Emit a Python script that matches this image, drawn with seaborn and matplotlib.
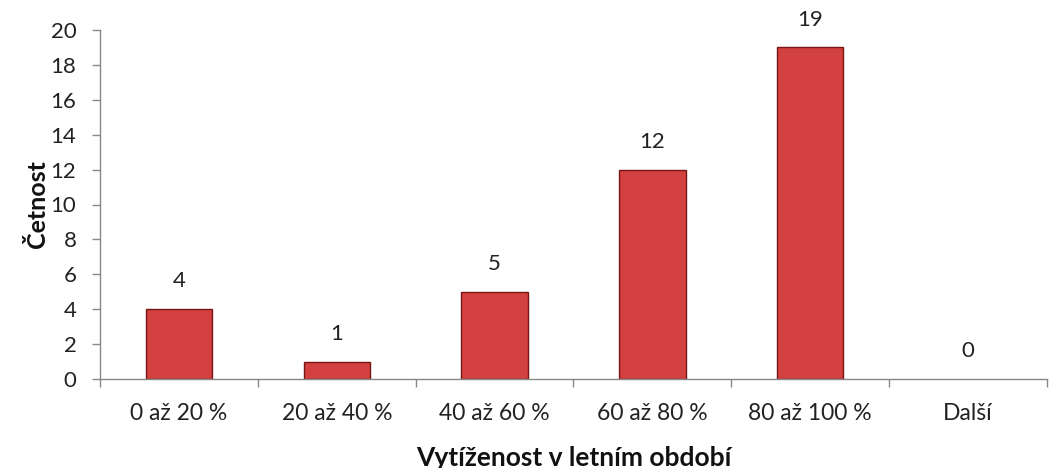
import matplotlib
matplotlib.use("Agg")
import matplotlib.pyplot as plt
import seaborn as sns
import pandas as pd
from matplotlib.ticker import FixedLocator

categories = ["0 až 20 %", "20 až 40 %", "40 až 60 %", "60 až 80 %", "80 až 100 %", "Další"]
counts = [4, 1, 5, 12, 19, 0]
yticks = [0, 2, 4, 6, 8, 10, 12, 14, 16, 18, 20]

sns.set_style("white")
plt.rcParams['font.family'] = ['Lato', 'DejaVu Sans']

df = pd.DataFrame({"cat": categories, "n": counts})
fig = plt.figure(figsize=(10.57, 4.68), dpi=100)
ax = fig.add_axes([100/1057, (468-379)/468, (1047-100)/1057, (379-30)/468])

sns.barplot(data=df, x="cat", y="n", ax=ax, color="#D24040", width=0.42,
            edgecolor="#7A1515", linewidth=1.0, saturation=1)

for p, v in zip(ax.patches, counts):
    if v == 0:
        p.set_linewidth(0)
    ax.annotate(str(v), (p.get_x() + p.get_width()/2, p.get_height()),
                xytext=(0, 20), textcoords="offset points",
                ha="center", va="center", fontsize=16, color="#222222")

ax.set_ylim(0, 20)
ax.set_xlim(-0.5, len(categories) - 0.5)
ax.set_yticks(yticks)
ax.xaxis.set_minor_locator(FixedLocator([i - 0.5 for i in range(len(categories) + 1)]))
ax.tick_params(axis="x", which="major", length=0, labelsize=16.5, pad=17, colors="#222222")
ax.tick_params(axis="x", which="minor", length=6, width=1, color="#888888", direction="out", bottom=True)
ax.tick_params(axis="y", length=6, width=1, color="#888888", direction="out", left=True,
               labelsize=16, pad=11, colors="#222222")

for s in ["top", "right"]:
    ax.spines[s].set_visible(False)
for s in ["left", "bottom"]:
    ax.spines[s].set_color("#888888")
    ax.spines[s].set_linewidth(1)

ax.set_xlabel("Vytíženost v letním období", fontsize=19, fontweight="bold", labelpad=16, color="#111111")
ax.set_ylabel("Četnost", fontsize=18, fontweight="bold", labelpad=1, color="#111111")

fig.savefig("out.png", dpi=100)
